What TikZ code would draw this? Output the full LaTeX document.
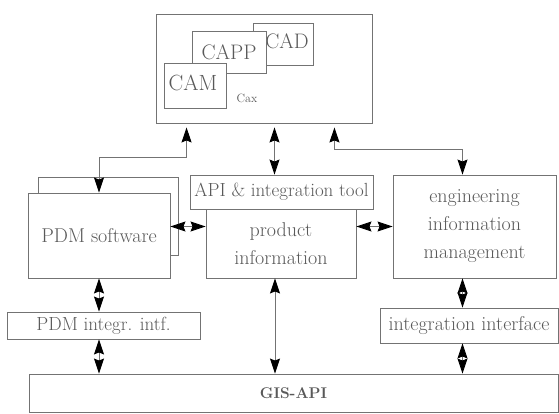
\documentclass[tikz,border=0pt]{standalone}
\usetikzlibrary{arrows.meta,calc}
\begin{document}
\begin{tikzpicture}[x=1pt,y=-1pt,
  >={Stealth[length=15pt,width=10pt,inset=2pt,color=black]},
  box/.style={draw=black!55,line width=0.9pt,fill=white,inner sep=0pt,
    text=black!65,font=\fontsize{20}{28}\selectfont,align=center},
  lbl/.style={text=black!65,inner sep=0pt},
  conn/.style={draw=black!55,line width=0.9pt},
  dbl/.style={conn,<->}]
\useasboundingbox (0,0) rectangle (559,414);

% CAx tools group
\node[box,minimum width=216pt,minimum height=109pt] (cax) at (264,68.5) {};
\node[lbl,font=\fontsize{12}{14}\selectfont] (caxlabel) at (247,98) {Cax};
\node[box,minimum width=60pt,minimum height=42pt] (cad) at (283,44) {};
\node[lbl,font=\fontsize{21}{24}\selectfont] (cadlabel) at (287,41) {CAD};
\node[box,minimum width=74pt,minimum height=42pt,font=\fontsize{21}{24}\selectfont] (capp) at (229,52) {CAPP};
\node[box,minimum width=62pt,minimum height=45pt] (cam) at (195,85.5) {};
\node[lbl,font=\fontsize{22}{24}\selectfont] (camlabel) at (193,83) {CAM};

% middle row
\node[box,minimum width=140pt,minimum height=78pt] (pdmback) at (108,216) {};
\node[box,minimum width=142pt,minimum height=85pt] (pdm) at (99,235.5) {PDM software};
\node[box,minimum width=183pt,minimum height=34pt,font=\fontsize{19}{24}\selectfont] (api) at (281.5,192) {API \& integration tool};
\node[box,minimum width=150pt,minimum height=69pt] (prod) at (281,243.5) {product\\information};
\node[box,minimum width=163pt,minimum height=103pt] (eng) at (474.5,226.5) {engineering\\information\\management};

% interfaces
\node[box,minimum width=193pt,minimum height=27pt,font=\fontsize{19}{24}\selectfont] (pdmint) at (103.5,325.5) {PDM integr. intf.};
\node[box,minimum width=178pt,minimum height=35pt] (intif) at (469,325.5) {integration interface};
\node[box,minimum width=529pt,minimum height=38pt,font=\bfseries\fontsize{15.5}{18}\selectfont] (gis) at (293.5,393) {GIS-API};

% connectors to the CAx group
\draw[dbl] ([xshift=31pt,yshift=-4pt]cax.south west) |- ([yshift=35pt]pdm.north) -- (pdm.north);
\draw[dbl] ([xshift=-7pt]api.north) -- ([xshift=-7pt,yshift=-4pt]api.north |- cax.south);
\draw[dbl] ([xshift=-38pt,yshift=-4pt]cax.south east) |- ([xshift=-12pt,yshift=25pt]eng.north) -- ([xshift=-12pt]eng.north);

% horizontal links
\draw[dbl] (pdm.east |- eng.west) -- (prod.west |- eng.west);
\draw[dbl] (prod.east |- eng.west) -- (eng.west);

% vertical links down to GIS-API
\draw[dbl] (pdm.south) -- (pdm.south |- pdmint.north);
\draw[dbl] (pdm.south |- pdmint.south) -- (pdm.south |- gis.north);
\draw[dbl] ([xshift=-6pt]prod.south) -- ([xshift=-6pt]prod.south |- gis.north);
\draw[dbl] ([xshift=-12pt]eng.south) -- ([xshift=-12pt]eng.south |- intif.north);
\draw[dbl] ([xshift=-12pt]eng.south |- intif.south) -- ([xshift=-12pt]eng.south |- gis.north);
\end{tikzpicture}
\end{document}
